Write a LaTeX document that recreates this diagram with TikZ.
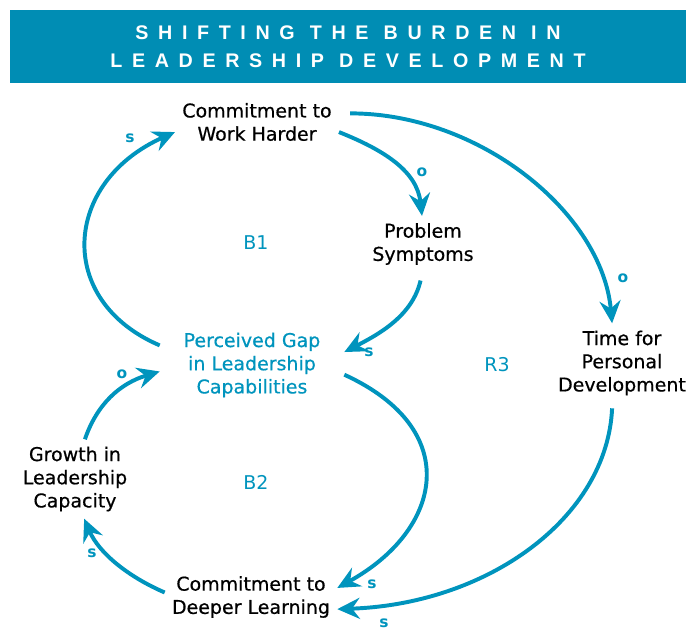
\documentclass[tikz,border=0pt]{standalone}
\usepackage{fontspec}
\setmainfont{DejaVu Sans}
\newfontfamily\headfont[LetterSpace=49]{Liberation Sans Bold}
\newfontfamily\varfont[FakeBold=0.6]{DejaVu Sans}
\usetikzlibrary{arrows.meta}
\definecolor{loopblue}{RGB}{0,148,189}
\definecolor{headblue}{RGB}{0,141,180}

\begin{document}
\begin{tikzpicture}[x=0.025cm, y=-0.025cm,
var/.style={
  align=center, inner sep=5pt,
  font=\varfont\fontsize{13.5}{16.5}\selectfont
},
looplabel/.style={text=loopblue, font=\fontsize{13.5}{16.5}\selectfont},
pol/.style={text=loopblue, inner sep=1pt, font=\fontsize{11}{12}\selectfont\bfseries},
link/.style={
  draw=loopblue, line width=2.8pt,
  -{Stealth[length=16pt,width=15pt,inset=5.5pt]}
},
banner/.style={
  fill=headblue, text=white, align=center,
  minimum width=16.9cm, minimum height=1.825cm,
  font=\headfont\fontsize{14}{20}\selectfont
}]
\useasboundingbox (0,0) rectangle (686,631);

\node (title) [banner] at (348,46.5) {SHIFTING THE BURDEN IN\\LEADERSHIP DEVELOPMENT};

\node (cwh) [var] at (257,122) {Commitment to\\Work Harder};
\node (ps) [var] at (423,244) {Problem\\Symptoms};
\node (gap) [var, text=loopblue, minimum width=4.6cm] at (252,365) {Perceived Gap\\in Leadership\\Capabilities};
\node (tpd) [var] at (622,363) {Time for\\Personal\\Development};
\node (glc) [var] at (75,479) {Growth in\\Leadership\\Capacity};
\node (cdl) [var] at (251,597) {Commitment to\\Deeper Learning};

\node (b1) [looplabel] at (256,243) {B1};
\node (r3) [looplabel] at (497,365) {R3};
\node (b2) [looplabel] at (256,482) {B2};

\node (p1) [pol] at (130,138) {s};
\node (p2) [pol] at (422,172) {o};
\node (p3) [pol] at (623,278) {o};
\node (p4) [pol] at (369,352) {s};
\node (p5) [pol] at (372,584) {s};
\node (p6) [pol] at (384,623) {s};
\node (p7) [pol] at (92,553) {s};
\node (p8) [pol] at (122,374) {o};

\draw [link] (gap.168) .. controls +(-105,-45) and +(-112,50) .. (cwh.187);
\draw [link] (cwh.353) .. controls +(45,18) and +(-5,-45) .. (ps.92);
\draw [link] ([xshift=8pt]cwh.6) .. controls +(130,0) and +(-10,-110) .. (tpd.104);
\draw [link] ([yshift=-6pt]ps.265) .. controls +(-8,35) and +(35,-18) .. (gap.8);
\draw [link] (gap.354) .. controls +(120,55) and +(105,-58) .. (cdl.6);
\draw [link] ([yshift=-4pt]tpd.256) .. controls +(-5,110) and +(150,-5) .. (cdl.352);
\draw [link] (cdl.177) .. controls +(-35,-15) and +(15,35) .. (glc.283);
\draw [link] (glc.76) .. controls +(12,-35) and +(-40,12) .. (gap.184);
\end{tikzpicture}
\end{document}
